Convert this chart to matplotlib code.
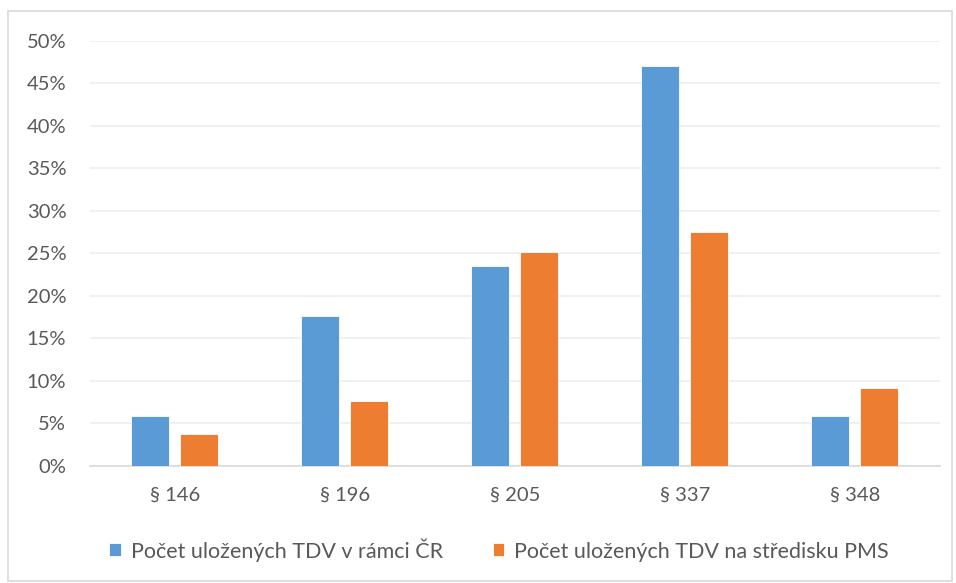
import matplotlib

matplotlib.use("Agg")
import matplotlib.pyplot as plt
from matplotlib.patches import Rectangle
from matplotlib.ticker import FuncFormatter
import numpy as np

plt.rcParams["font.family"] = ["Lato", "DejaVu Sans"]

categories = ["§ 146", "§ 196", "§ 205", "§ 337", "§ 348"]
cr_share = [0.0588, 0.1765, 0.2353, 0.4706, 0.0588]
pms_share = [0.0382, 0.0763, 0.2519, 0.2748, 0.0916]
labels = ["Počet uložených TDV v rámci ČR", "Počet uložených TDV na středisku PMS"]

blue = "#5B9BD5"
orange = "#ED7D31"
txt = "#595959"

fig = plt.figure(figsize=(9.56, 5.83), dpi=100)
ax = fig.add_axes([0.094, 0.2007, 0.889, 0.729])

x = np.arange(len(categories))
w = 0.224
ax.bar(x - 0.144, cr_share, w, color=blue, edgecolor="white", linewidth=0.6, label=labels[0], zorder=3)
ax.bar(x + 0.144, pms_share, w, color=orange, edgecolor="white", linewidth=0.6, label=labels[1], zorder=3)

ax.set_xlim(-0.5, len(categories) - 0.5)
ax.set_ylim(0, 0.5)
ax.set_yticks(np.arange(0, 0.51, 0.05))
ax.yaxis.set_major_formatter(FuncFormatter(lambda v, _: f"{round(v * 100)}%"))
ax.set_xticks(x)
ax.set_xticklabels(categories)
ax.grid(axis="y", color="#EDEDED", linewidth=1.2, zorder=0)
for s in ["top", "right", "left"]:
    ax.spines[s].set_visible(False)
ax.spines["bottom"].set_color("#D9D9D9")
ax.spines["bottom"].set_linewidth(1.2)
ax.tick_params(length=0, labelsize=14.5, labelcolor=txt)
ax.tick_params(axis="x", pad=15)
ax.tick_params(axis="y", pad=17)

ax.legend(loc="center", bbox_to_anchor=(0.522, 0.057), bbox_transform=fig.transFigure,
          ncol=2, frameon=False, fontsize=15.5, labelcolor=txt,
          handlelength=0.55, handleheight=0.55, handletextpad=0.45, columnspacing=2.3)

fig.patches.append(Rectangle((8 / 956, 2 / 583), 944 / 956, 570 / 583, transform=fig.transFigure,
                             fill=False, edgecolor="#D9D9D9", linewidth=1.2))

fig.savefig("out.png", dpi=100, facecolor="white")
